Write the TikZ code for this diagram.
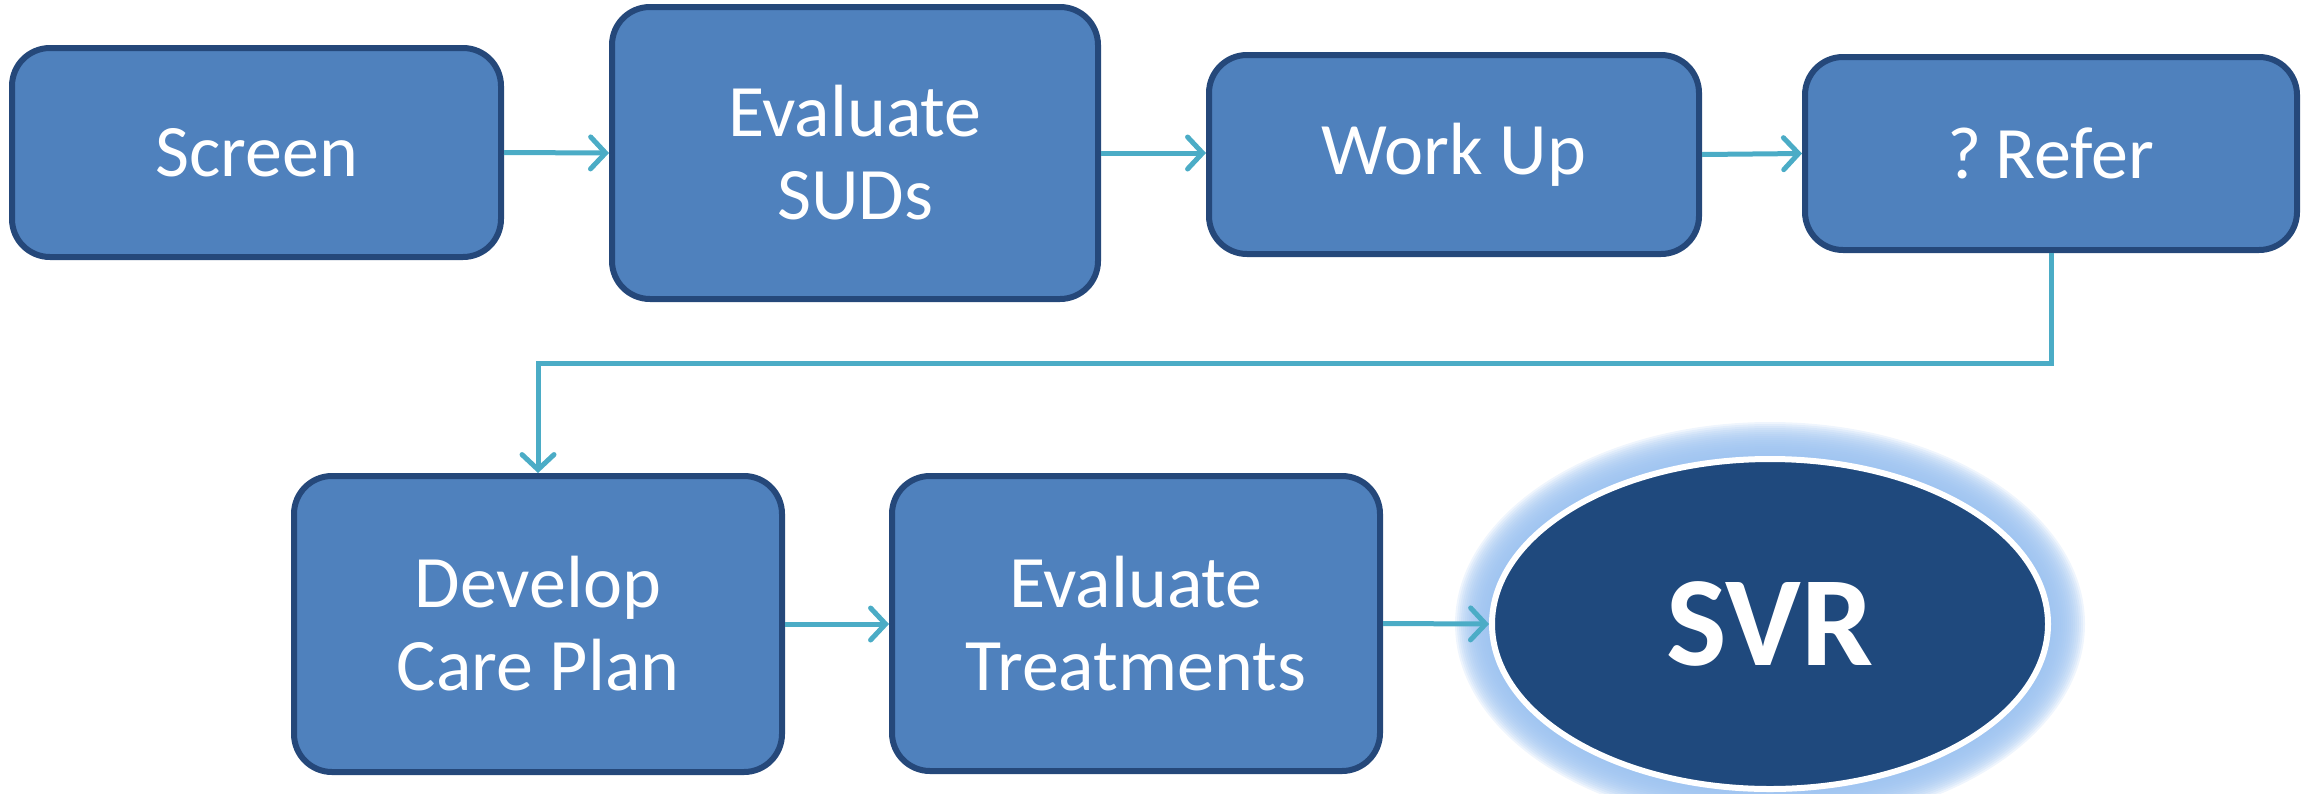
\documentclass[tikz,border=0pt]{standalone}
\usepackage{fontspec}
\setmainfont{Carlito}
\usetikzlibrary{arrows.meta,shapes.geometric}
\definecolor{boxfill}{HTML}{4F81BD}
\definecolor{boxline}{HTML}{25487A}
\definecolor{conncol}{HTML}{4BACC6}
\definecolor{goalfill}{HTML}{1F497D}
\definecolor{glowcol}{HTML}{9CC2F0}
\begin{document}
\begin{tikzpicture}[x=1pt,y=-1pt,
  stepbox/.style={draw=boxline, line width=6pt, fill=boxfill, rounded corners=38pt,
    text=white, align=center, inner sep=0pt,
    font=\fontsize{74}{83}\selectfont},
  conn/.style={draw=conncol, line width=5pt,
    -{Straight Barb[length=15pt,width=32pt,line cap=round]}}]
\useasboundingbox (0,0) rectangle (2312,793);

% process steps
\node[stepbox, minimum width=489pt, minimum height=209pt] (screen) at (256.5,152.5) {Screen};
\node[stepbox, minimum width=486pt, minimum height=292pt] (suds) at (855,153) {Evaluate\\SUDs};
\node[stepbox, minimum width=490pt, minimum height=199pt] (workup) at (1454,154.5) {Work Up};
\node[stepbox, minimum width=492pt, minimum height=193pt] (refer) at (2051,153.5) {?\hspace{-0.12em} Refer};
\node[stepbox, minimum width=488pt, minimum height=296pt] (develop) at (538,624) {Develop\\Care Plan};
\node[stepbox, minimum width=488pt, minimum height=295pt] (treat) at (1136,623.5) {Evaluate\\Treatments};

% soft glow around the goal
\foreach \i in {18,17,...,1}
  \fill[glowcol, opacity=0.16] (1770,624) ellipse ({279+2*\i} and {166+2*\i});
\node[ellipse, draw=white, line width=6pt, fill=goalfill, text=white,
  minimum width=556pt, minimum height=330pt, inner sep=0pt,
  font=\bfseries\fontsize{128}{140}\selectfont] (svr) at (1770,624) {SVR};

% connectors
\draw[conn] (screen.east) -- (suds.west);
\draw[conn] (suds.east) -- (suds.east -| workup.west);
\draw[conn] (workup.east) -- (refer.west);
\coordinate (turn) at (0,363);
\draw[conn] (refer.south) -- (refer.south |- turn) -| (develop.north);
\draw[conn] (develop.east) -- (develop.east -| treat.west);
\draw[conn] (treat.east) -- (svr.west);
\end{tikzpicture}
\end{document}
